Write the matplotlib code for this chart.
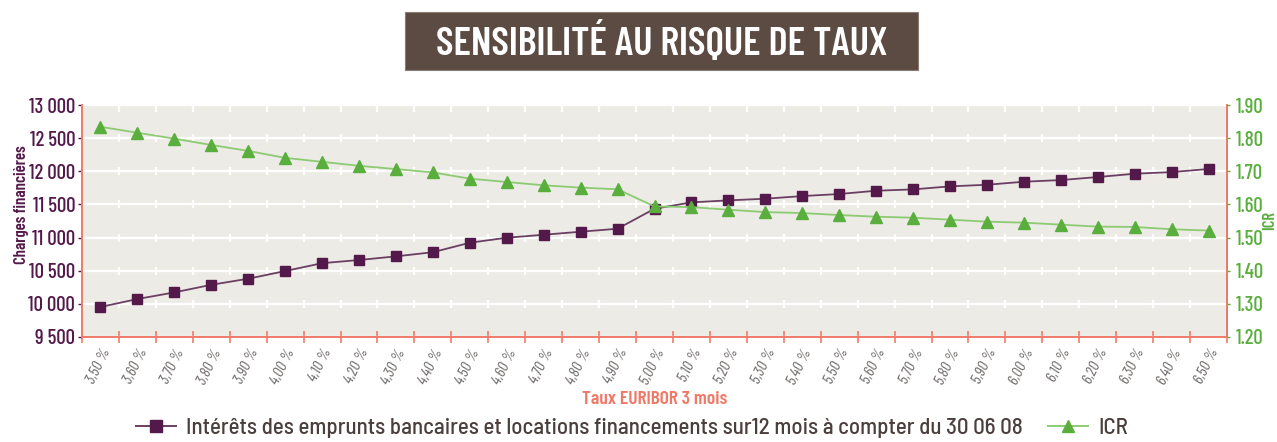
import numpy as np
import matplotlib
matplotlib.use("Agg")
import matplotlib.pyplot as plt
from matplotlib.lines import Line2D
from matplotlib.patches import Rectangle
import logging
logging.getLogger("matplotlib.font_manager").setLevel(logging.ERROR)

categories = ["3,50 %", "3,60 %", "3,70 %", "3,80 %", "3,90 %", "4,00 %", "4,10 %", "4,20 %",
              "4,30 %", "4,40 %", "4,50 %", "4,60 %", "4,70 %", "4,80 %", "4,90 %", "5,00 %",
              "5,10 %", "5,20 %", "5,30 %", "5,40 %", "5,50 %", "5,60 %", "5,70 %", "5,80 %",
              "5,90 %", "6,00 %", "6,10 %", "6,20 %", "6,30 %", "6,40 %", "6,50 %"]
interets = [9950, 10070, 10170, 10285, 10377, 10493, 10612, 10660, 10715, 10778,
            10921, 10997, 11042, 11088, 11133, 11435, 11532, 11562, 11587, 11627,
            11658, 11708, 11728, 11774, 11798, 11844, 11869, 11915, 11965, 11990, 12036]
icr = [1.835, 1.817, 1.799, 1.780, 1.762, 1.741, 1.729, 1.717, 1.707, 1.697,
       1.678, 1.668, 1.658, 1.651, 1.646, 1.594, 1.592, 1.584, 1.577, 1.574,
       1.568, 1.563, 1.560, 1.554, 1.548, 1.545, 1.539, 1.533, 1.532, 1.525, 1.521]
left_ticks = [9500, 10000, 10500, 11000, 11500, 12000, 12500, 13000]
left_labels = ["9 500", "10 000", "10 500", "11 000", "11 500", "12 000", "12 500", "13 000"]
right_ticks = [1.20, 1.30, 1.40, 1.50, 1.60, 1.70, 1.80, 1.90]
right_labels = ["1.20", "1.30", "1.40", "1.50", "1.60", "1.70", "1.80", "1.90"]
legend_labels = ["Intérêts des emprunts bancaires et locations financements sur12 mois à compter du 30 06 08", "ICR"]
title = "SENSIBILITÉ AU RISQUE DE TAUX"

NARROW = ["Barlow Condensed", "Roboto Condensed", "Saira SemiCondensed", "DejaVu Sans"]
SEMI = ["Barlow Semi Condensed", "Saira SemiCondensed", "DejaVu Sans"]
PURPLE = "#54194B"
PURPLE_LINE = "#6B3F63"
GREEN = "#5AAE3E"
GREEN_LINE = "#8DCB73"
SALMON = "#F07A68"
BG = "#ECEBE5"

fig = plt.figure(figsize=(12.77, 4.42), dpi=100)
ax = fig.add_axes([82/1277, 105.3/442, (1227-82)/1277, (336.7-105.3)/442])
ax.set_facecolor(BG)
x = np.arange(len(categories))

ax.set_xlim(-0.5, len(categories) - 0.5)
ax.set_ylim(left_ticks[0], left_ticks[-1])
ax.set_yticks(left_ticks)
ax.set_yticklabels(left_labels, family=NARROW, fontsize=15, color=PURPLE, fontweight="medium")
ax.tick_params(axis="y", colors=PURPLE, length=3, width=1, pad=2)
ax.grid(axis="y", color="white", linewidth=1.6)
ax.set_axisbelow(True)

# white tick marks across the grid lines at category boundaries
bx = np.arange(-0.5, len(categories) + 0.5, 1.0)
for yv in left_ticks[1:-1]:
    ax.plot(bx, [yv] * len(bx), ls="none", marker="|", color="white", ms=6, mew=1.6, zorder=1)
ax.plot(bx, [left_ticks[-1]] * len(bx), ls="none", marker="|", color="white", ms=10, mew=1.6, zorder=1)

ax.set_xticks(bx)
ax.set_xticklabels([])
ax.tick_params(axis="x", which="major", direction="inout", length=9, width=1.2, color=SALMON)
ax.set_xticks(x, minor=True)
ax.set_xticklabels(categories, minor=True, rotation=64, ha="right", rotation_mode="anchor",
                   family=NARROW, fontsize=11.5, color="#6E6A68", style="italic")
ax.tick_params(axis="x", which="minor", length=0, pad=7)

ax.spines["top"].set_visible(False)
for s in ["left", "bottom", "right"]:
    ax.spines[s].set_color(SALMON)
    ax.spines[s].set_linewidth(1.4)

ax.set_ylabel("Charges financières", family=NARROW, fontsize=12, color=PURPLE,
              fontweight="semibold")
ax.yaxis.set_label_coords(-0.046, 0.57)
ax.set_xlabel("Taux EURIBOR 3 mois", family=NARROW, fontsize=14, color=SALMON,
              fontweight="semibold", labelpad=3)

ax.plot(x, interets, color=PURPLE_LINE, lw=1.3, marker="s", ms=7.5,
        mfc=PURPLE, mec=PURPLE, zorder=3)

ax2 = ax.twinx()
ax2.set_ylim(right_ticks[0], right_ticks[-1])
ax2.set_yticks(right_ticks)
ax2.set_yticklabels(right_labels, family=NARROW, fontsize=15, color=GREEN, fontweight="medium")
ax2.tick_params(axis="y", colors=GREEN, length=2, width=1, pad=4)
for s in ["top", "left", "bottom"]:
    ax2.spines[s].set_visible(False)
ax2.spines["right"].set_color(SALMON)
ax2.spines["right"].set_linewidth(1.4)
ax2.set_ylabel("ICR", family=NARROW, fontsize=12, color=GREEN, fontweight="semibold", labelpad=-1)
ax2.plot(x, icr, color=GREEN_LINE, lw=1.3, marker="^", ms=8.5,
         mfc=GREEN, mec=GREEN, zorder=3)

# Title box
fig.patches.append(Rectangle((405/1277, 1 - 70/442), (918-405)/1277, 58/442,
                             transform=fig.transFigure, facecolor="#5C4B43",
                             edgecolor="#8a7b74", linewidth=0.8))
fig.text(661.5/1277, 1 - 42/442, title, ha="center", va="center", color="white",
         family=NARROW, fontsize=29, fontweight="semibold")

h1 = Line2D([], [], color=PURPLE_LINE, lw=1.4, marker="s", ms=8, mfc=PURPLE, mec=PURPLE)
h2 = Line2D([], [], color=GREEN_LINE, lw=1.4, marker="^", ms=9, mfc=GREEN, mec=GREEN)
leg = fig.legend([h1, h2], legend_labels, ncol=2, loc="center",
                 bbox_to_anchor=(632/1277, 1 - 428/442), frameon=False,
                 prop={"family": SEMI, "size": 16.5, "weight": "medium"},
                 handlelength=1.75, handletextpad=0.45, columnspacing=1.1)
for t in leg.get_texts():
    t.set_color("#4A3F3C")

fig.savefig("out.png", dpi=100, facecolor="white")
